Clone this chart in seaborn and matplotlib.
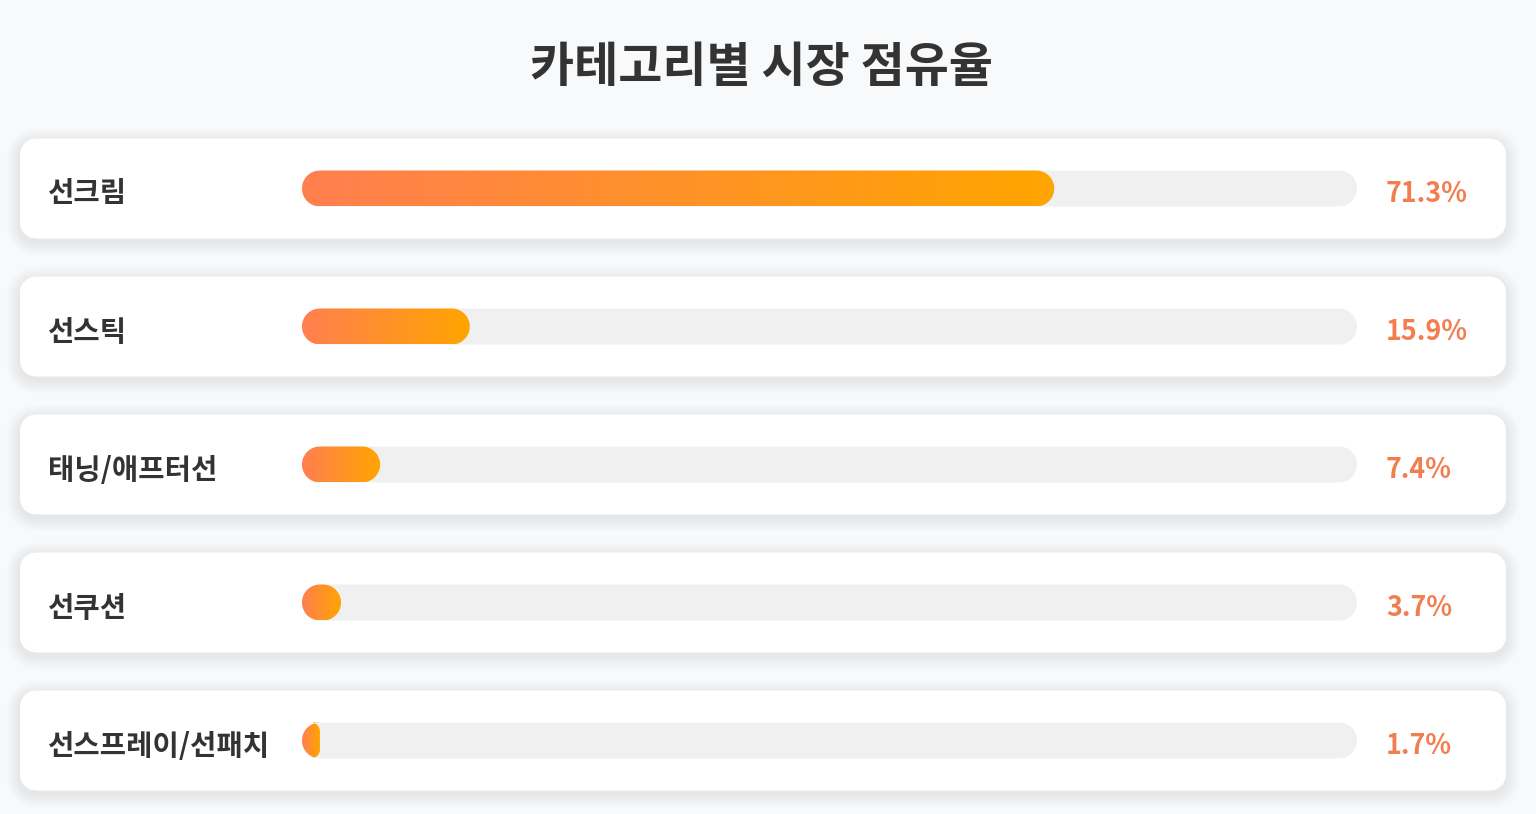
import numpy as np
import pandas as pd
import matplotlib
matplotlib.use('Agg')
import matplotlib.pyplot as plt
import seaborn as sns
from matplotlib.patches import Polygon
from matplotlib.colors import LinearSegmentedColormap

# ---- data ----
categories = ['선크림', '선스틱', '태닝/애프터선', '선쿠션', '선스프레이/선패치']
shares = [71.3, 15.9, 7.4, 3.7, 1.7]
value_labels = ['71.3%', '15.9%', '7.4%', '3.7%', '1.7%']
title = '카테고리별 시장 점유율'
track_max = 100

sns.set_theme(style='white')
plt.rcParams['font.family'] = ['Noto Sans CJK KR', 'DejaVu Sans']

W, H = 1536, 814
fig = plt.figure(figsize=(W / 100, H / 100), dpi=100)
fig.patch.set_facecolor('#f8f9fa')

# layout in pixels
left_px, right_px = 302, 1357
row0, row_gap = 188.5, 138
n = len(categories)
top_px = row0 - row_gap / 2
bottom_px = row0 + row_gap * (n - 0.5)
ax = fig.add_axes([left_px / W, 1 - bottom_px / H,
                   (right_px - left_px) / W, (bottom_px - top_px) / H])

df = pd.DataFrame({'category': categories, 'share': shares,
                   'track': [track_max] * n})
bar_h = 36 / row_gap
sns.barplot(data=df, x='track', y='category', orient='h', color='#f0f0f0',
            width=bar_h, errorbar=None, ax=ax)
sns.barplot(data=df, x='share', y='category', orient='h', color='#ff7f50',
            width=bar_h, errorbar=None, ax=ax)
ax.set_autoscale_on(False)
ax.set_xlim(0, track_max)
ax.set_ylim(n - 0.5, -0.5)
ax.set_axis_off()

ax_w_px = right_px - left_px
sx = ax_w_px / track_max   # px per x data unit
sy = row_gap               # px per y data unit

NS = 121


def inset(w, h, r, dy):
    """horizontal inset of a rounded rect edge at vertical offset dy (px)."""
    r = min(r, w / 2, h / 2)
    core = h / 2 - r
    d = np.clip(np.abs(dy) - core, 0, None)
    return r - np.sqrt(np.clip(r * r - d * d, 0, None))


def rr_bounds(w, h, r, dys):
    ins = inset(w, h, r, dys)
    return ins, w - ins


def to_poly(xl, xr, dys):
    xs = np.concatenate([xr, xl[::-1]])
    ys = np.concatenate([dys, dys[::-1]])
    return np.column_stack([xs, ys])


cmap = LinearSegmentedColormap.from_list('g', ['#ff7f50', '#ffa500'])
grad = np.linspace(0, 1, 256).reshape(1, -1)

patches = list(ax.patches)
track_patches = patches[:n]
bar_patches = patches[n:2 * n]
for tp, bp in zip(track_patches, bar_patches):
    tx, ty, tw, th = tp.get_x(), tp.get_y(), tp.get_width(), tp.get_height()
    bx, by, bw, bh = bp.get_x(), bp.get_y(), bp.get_width(), bp.get_height()
    tp.set_visible(False)
    bp.set_visible(False)
    yc = ty + th / 2
    hp = th * sy
    dys = np.linspace(-hp / 2, hp / 2, NS)
    # track pill
    twp = tw * sx
    tl, tr = rr_bounds(twp, hp, 18, dys)
    pts = to_poly(tl, tr, dys)
    data = np.column_stack([tx + pts[:, 0] / sx, yc + pts[:, 1] / sy])
    ax.add_patch(Polygon(data, closed=True, facecolor='#f0f0f0',
                         edgecolor='none', zorder=2))
    # fill: own rounded rect intersected with track pill
    bwp = bw * sx
    fl, fr = rr_bounds(bwp, hp, 18, dys)
    fl = np.maximum(fl, tl)
    fr = np.minimum(fr, tr)
    pts = to_poly(fl, fr, dys)
    data = np.column_stack([bx + pts[:, 0] / sx, yc + pts[:, 1] / sy])
    clip = Polygon(data, closed=True, facecolor='none', edgecolor='none',
                   transform=ax.transData)
    im = ax.imshow(grad, extent=[bx, bx + bw, by + bh, by], cmap=cmap,
                   aspect='auto', interpolation='bicubic', zorder=3)
    im.set_clip_path(clip)

# cards (blended: x axes fraction, y data)
bt = ax.get_yaxis_transform()
card_l_px = 20 - left_px
card_w_px = 1506 - 20
card_h_px = 100


def card_poly(x0_px, w_px, cy, h_px, r_px, **kw):
    dys = np.linspace(-h_px / 2, h_px / 2, NS)
    l, r = rr_bounds(w_px, h_px, r_px, dys)
    pts = to_poly(l, r, dys)
    data = np.column_stack([(x0_px + pts[:, 0]) / ax_w_px,
                            cy + pts[:, 1] / row_gap])
    return Polygon(data, closed=True, transform=bt, clip_on=False, **kw)


for i in range(n):
    for k in range(1, 10):
        e = k * 1.5
        ax.add_patch(card_poly(card_l_px - e, card_w_px + 2 * e, i + 3.5 / row_gap,
                               card_h_px + 2 * e, 16 + e,
                               facecolor='black', edgecolor='none',
                               alpha=0.0065, zorder=0))
    ax.add_patch(card_poly(card_l_px, card_w_px, i, card_h_px, 16,
                           facecolor='white', edgecolor='none', zorder=1))

# labels
lab_x = (48 - left_px) / ax_w_px
val_x = (1386 - left_px) / ax_w_px
dy_lab = 5 / row_gap
for i, (cat, lab) in enumerate(zip(categories, value_labels)):
    ax.text(lab_x, i + dy_lab, cat, transform=bt, ha='left', va='center',
            fontsize=20.6, fontweight='bold', color='#333333', zorder=5)
    ax.text(val_x, i + dy_lab, lab, transform=bt, ha='left', va='center',
            fontsize=19.3, fontweight='bold', color='#f27e4f', zorder=5)

fig.text(762 / W, 1 - 67 / H, title, ha='center', va='center',
         fontsize=34.5, fontweight='bold', color='#333333')

fig.savefig('out.png', dpi=100, facecolor=fig.get_facecolor())
